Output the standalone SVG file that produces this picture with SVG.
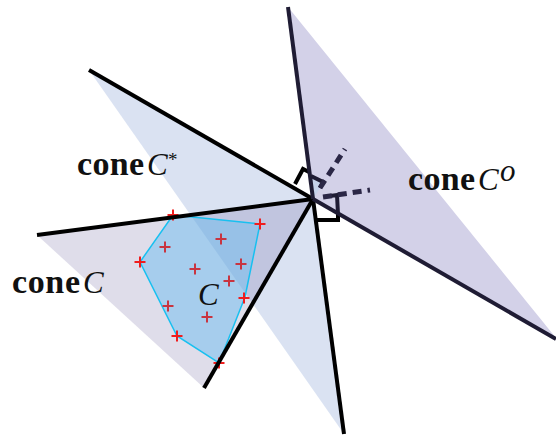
<svg xmlns="http://www.w3.org/2000/svg" width="556" height="439" viewBox="0 0 556 439">
<style>
.edge{stroke:#000;stroke-width:4;fill:none;stroke-linecap:butt}
.pedge{stroke:#1f1c34;stroke-width:4;fill:none}
.dash{stroke:#2b2746;stroke-width:5;fill:none;stroke-dasharray:9 6}
.mk{stroke-width:2;fill:none}
.lbl{font-family:"Liberation Serif","DejaVu Serif",serif;font-weight:bold;font-size:34px;fill:#111}
.cal{font-family:"Liberation Serif","DejaVu Serif",serif;font-style:italic;font-size:31px;fill:#111}
</style>
<defs>
<path id="plus" d="M-5.5,0H5.5M0,-5.5V5.5"/>
</defs>
<rect width="556" height="439" fill="#fff"/>
<g id="polar-cone">
<polygon points="288,7 313,199 556,338" fill="#d3d1e8"/>
</g>
<g id="dual-cone">
<polygon points="89,70 313,199 344,434" fill="rgb(70,110,190)" fill-opacity="0.2"/>
</g>
<g id="primal-cone">
<polygon points="37,235 313,199 203,387" fill="rgb(95,85,150)" fill-opacity="0.2"/>
</g>
<g id="hull">
<polygon points="173,215 260,224 245,297 219,363 177,336 140,262" fill="rgb(110,190,240)" fill-opacity="0.5" stroke="#18c0f0" stroke-width="1.5"/>
</g>
<g id="inner-points" stroke="#c83440" class="mk">
<use href="#plus" x="165" y="247"/>
<use href="#plus" x="221" y="239"/>
<use href="#plus" x="195" y="269"/>
<use href="#plus" x="241" y="264"/>
<use href="#plus" x="229" y="281"/>
<use href="#plus" x="168" y="306"/>
<use href="#plus" x="207" y="317"/>
</g>
<g id="hull-points" stroke="#f01c1c" class="mk">
<use href="#plus" x="173" y="215"/>
<use href="#plus" x="260" y="224"/>
<use href="#plus" x="244" y="298"/>
<use href="#plus" x="219" y="363"/>
<use href="#plus" x="177" y="336"/>
<use href="#plus" x="140" y="262"/>
</g>
<g id="connectors">
<polygon points="313,199 311,176 323,182 320,188" fill="#c5d2ea"/>
<polyline class="edge" points="295,184 303,169 309,172"/>
<polyline class="pedge" points="311,176 323,182 320,188" stroke-width="3.5"/>
<polyline class="pedge" points="330,196 337,195 338,214" stroke-width="3.5"/>
<polyline class="edge" points="338,213 338,220 316,220" stroke-width="3.5"/>
<line class="edge" x1="89" y1="70" x2="313" y2="199"/>
<line class="edge" x1="313" y1="199" x2="344" y2="434"/>
<line class="edge" x1="37" y1="235" x2="313" y2="199"/>
<line class="edge" x1="313" y1="199" x2="204" y2="388"/>
<line class="pedge" x1="288" y1="7" x2="313" y2="199"/>
<line class="pedge" x1="313" y1="199" x2="556" y2="339"/>
<line class="dash" x1="320" y1="188" x2="345" y2="149"/>
<line class="dash" x1="323" y1="197" x2="370" y2="190"/>
</g>
<g id="labels">
<text class="lbl" x="77" y="175" textLength="67" lengthAdjust="spacing">cone</text>
<text class="cal" x="147" y="175">C</text>
<text x="168" y="166" font-family="Liberation Serif, serif" font-size="19" fill="#111">*</text>
<text class="lbl" x="12" y="293" textLength="68" lengthAdjust="spacing">cone</text>
<text class="cal" x="83" y="293">C</text>
<text class="lbl" x="408" y="190" textLength="67" lengthAdjust="spacing">cone</text>
<text class="cal" x="478" y="190">C</text>
<text class="cal" x="500" y="181" font-size="18">o</text>
<text class="cal" x="198" y="305" font-size="28">C</text>
</g>
</svg>
